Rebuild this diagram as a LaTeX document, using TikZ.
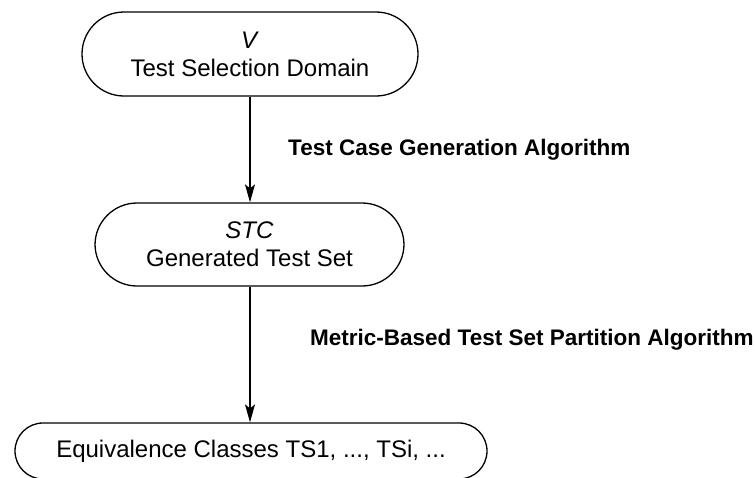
\documentclass[tikz,border=0pt]{standalone}
\usepackage{fontspec}
\setmainfont{Liberation Sans}
\usetikzlibrary{arrows.meta}

\tikzset{
  stadium/.style={draw=black, line width=1.3pt, rounded corners=#1, inner sep=0pt,
    align=center, font=\fontsize{24}{28}\selectfont},
  flowarrow/.style={draw=black, line width=1.3pt,
    -{Stealth[length=18pt, width=10pt, inset=4pt]}},
  steplabel/.style={anchor=west, inner sep=0pt, font=\fontsize{22.5}{27}\selectfont\bfseries}
}

\begin{document}
\begin{tikzpicture}[x=1pt, y=-1pt]
  \useasboundingbox (0,0) rectangle (755,477);

  % process stages
  \node[stadium=42pt, minimum width=336pt, minimum height=84pt] (domain) at (250,54)
    {\textit{V}\\Test Selection Domain};
  \node[stadium=42pt, minimum width=309pt, minimum height=83pt] (testset) at (249.5,244.5)
    {\textit{STC}\\Generated Test Set};
  \node[stadium=28pt, minimum width=472pt, minimum height=56pt] (classes) at (251,451)
    {Equivalence Classes TS1, ..., TSi, ...};

  % transitions
  \draw[flowarrow] (domain.south -| 250,0) -- (testset.north -| 250,0);
  \draw[flowarrow] (testset.south -| 250,0) -- (classes.north -| 250,0);

  % algorithm labels
  \node[steplabel] (gen) at (288,150) {Test Case Generation Algorithm};
  \node[steplabel] (part) at (310,340) {Metric-Based Test Set Partition Algorithm};
\end{tikzpicture}
\end{document}
